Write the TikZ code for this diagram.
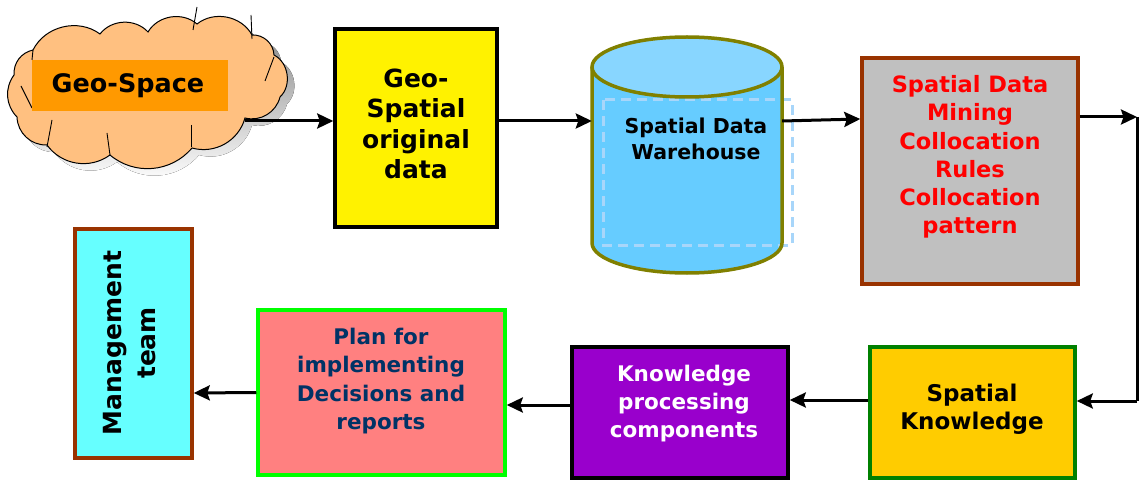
\documentclass[tikz,border=0pt]{standalone}
\usepackage{fontspec}
\setmainfont{DejaVu Sans}
\usetikzlibrary{arrows.meta}

\definecolor{peach}{HTML}{FFC080}
\definecolor{shade}{HTML}{808080}
\definecolor{labelorange}{HTML}{FF9900}
\definecolor{brick}{HTML}{993300}
\definecolor{silver}{HTML}{C0C0C0}
\definecolor{gold}{HTML}{FFCC00}
\definecolor{leaf}{HTML}{008000}
\definecolor{violet}{HTML}{9900CC}
\definecolor{salmon}{HTML}{FF8080}
\definecolor{lime}{HTML}{00FF00}
\definecolor{navy}{HTML}{003366}
\definecolor{aqua}{HTML}{66FFFF}
\definecolor{drumside}{HTML}{66CCFF}
\definecolor{drumtop}{HTML}{88D6FF}
\definecolor{olive}{HTML}{808000}
\definecolor{paleblue}{HTML}{A8D6FA}

\tikzset{
  box/.style={draw, line width=3.5pt, rectangle, inner sep=0pt},
  txt/.style={align=center, font=\bfseries, inner sep=0pt},
  arr/.style={line width=3pt, -{Stealth[length=16pt,width=15pt,inset=2.5pt]}},
  wire/.style={line width=3pt},
  tick/.style={line width=0.9pt},
}

\begin{document}
\begin{tikzpicture}[x=1pt,y=1pt]
\useasboundingbox (0,0) rectangle (1139,480);

% ---- cloud: Geo-Space ----
\def\cloudpath{(33,430) to[bend left=50] (100,446) to[bend left=50] (148,448)
  to[bend left=50] (197,456) to[bend left=50] (252,445) to[bend left=45] (274,425)
  to[bend left=55] (280,383) to[bend left=45] (245,362) to[bend left=45] (192,332)
  to[bend left=45] (110,325) to[bend left=45] (47,335) to[bend left=45] (17,363)
  to[bend left=40] (14,405) to[bend left=40] cycle}
\fill[shade, shift={(7,-7)}] \cloudpath;
\draw[fill=peach, line width=1pt] \cloudpath;
\draw[tick] (197,473) -- (193,450);
\draw[tick] (251,465) -- (252,441);
\draw[tick] (274,423) -- (265,399);
\draw[tick] (21,394) -- (32,372);
\draw[tick] (52,360) -- (47,333);
\draw[tick] (107,347) -- (110,325);
\draw[tick] (191,355) -- (191,333);
\draw[tick] (33,430) -- (32,420);
\node[fill=labelorange, minimum width=196pt, minimum height=51pt, inner sep=0pt] (geospace) at (130,394.5) {};
\node[txt, font=\bfseries\fontsize{25.5}{30}\selectfont] (geospacetxt) at (128,394) {Geo-Space};
\coordinate (cloudout) at (245,359);

% ---- original data ----
\node[box, fill=yellow, minimum width=162pt, minimum height=198pt] (orig) at (416,352) {};
\node[txt, font=\bfseries\fontsize{25}{30.5}\selectfont] (origtxt) at (416,356) {Geo-\\Spatial\\original\\data};

% ---- warehouse cylinder ----
\fill[drumside] (592,413) -- (592,237) arc[start angle=180, end angle=360, x radius=95, y radius=30] -- (782,413) -- cycle;
\fill[drumtop] (687,413) ellipse[x radius=95, y radius=30];
\draw[paleblue, line width=3pt, dash pattern=on 10pt off 6pt] (603,380) rectangle (792,235);
\draw[olive, line width=3.5pt] (592,413) -- (592,237) arc[start angle=180, end angle=360, x radius=95, y radius=30] -- (782,413);
\draw[olive, line width=3.5pt] (687,413) ellipse[x radius=95, y radius=30];
\node[minimum width=190pt, minimum height=236pt, inner sep=0pt] (dw) at (687,325) {};
\node[txt, font=\bfseries\fontsize{20.5}{25.5}\selectfont] (dwtxt) at (696,341) {Spatial Data\\Warehouse};

% ---- mining ----
\node[box, draw=brick, fill=silver, minimum width=216pt, minimum height=226pt] (mine) at (970,309) {};
\node[txt, text=red, font=\bfseries\fontsize{22.5}{28.3}\selectfont] (minetxt) at (970,323) {Spatial Data\\Mining\\Collocation\\Rules\\Collocation\\pattern};

% ---- spatial knowledge ----
\node[box, draw=leaf, fill=gold, minimum width=205pt, minimum height=131pt] (know) at (972.5,67.5) {};
\node[txt, font=\bfseries\fontsize{23}{27.5}\selectfont] (knowtxt) at (972,71) {Spatial\\Knowledge};

% ---- processing ----
\node[box, draw=black, fill=violet, minimum width=216pt, minimum height=131pt] (proc) at (680,67.5) {};
\node[txt, text=white, font=\bfseries\fontsize{21.5}{28}\selectfont] (proctxt) at (684,76) {Knowledge\\processing\\components};

% ---- plan ----
\node[box, draw=lime, fill=salmon, minimum width=247pt, minimum height=165pt] (plan) at (381.5,87.5) {};
\node[txt, text=navy, font=\bfseries\fontsize{21.5}{28.5}\selectfont] (plantxt) at (381,99) {Plan for\\implementing\\Decisions and\\reports};

% ---- management ----
\node[box, draw=brick, fill=aqua, minimum width=117pt, minimum height=229pt] (mgmt) at (133.5,136.5) {};
\node[txt, rotate=90, font=\bfseries\fontsize{25}{34}\selectfont] (mgmttxt) at (130,137) {Management\\team};

% ---- flow ----
\coordinate (turnA) at (1137,363);
\coordinate (turnB) at (1137,79);
\draw[arr] (cloudout) -- (orig.west |- cloudout);
\draw[arr] ([yshift=7pt]orig.east) -- ([yshift=34pt]dw.west);
\draw[arr] ([yshift=34pt]dw.east) -- ([yshift=52pt]mine.west);
\draw[arr] ([yshift=54pt]mine.east) -- (turnA);
\draw[wire] (turnA) -- (turnB);
\draw[arr] (turnB) -- ([yshift=11.5pt]know.east);
\draw[arr] ([yshift=12.5pt]know.west) -- ([yshift=12.5pt]proc.east);
\draw[arr] ([yshift=7.5pt]proc.west) -- ([yshift=-12.5pt]plan.east);
\draw[arr] (plan.west) -- ([yshift=-49.5pt]mgmt.east);
\end{tikzpicture}
\end{document}
